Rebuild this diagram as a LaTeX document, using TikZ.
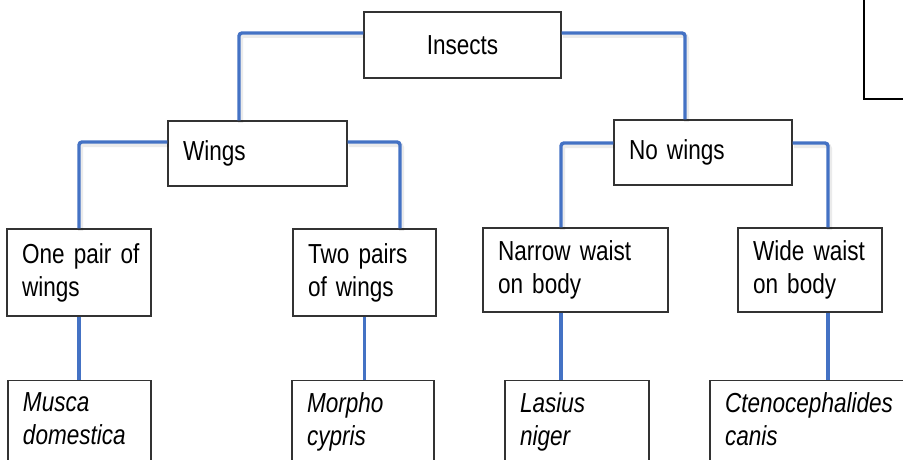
\documentclass[tikz,border=0pt]{standalone}
\usepackage{fontspec}
\setmainfont[FakeStretch=0.82]{Liberation Sans}
\usepackage{tikz}
\usetikzlibrary{positioning, calc}
\definecolor{keyblue}{HTML}{4472C4}
\definecolor{boxgrey}{HTML}{333333}
\newcommand{\deepline}{\rule[-30pt]{0pt}{30pt}}

\tikzset{
  keybox/.style={draw=boxgrey, line width=1.4pt, fill=white, inner xsep=15pt, inner ysep=0pt, align=left},
  leafbox/.style={keybox, anchor=north, inner ysep=12pt},
  link/.style={draw=keyblue, line width=3.4pt, rounded corners=3pt},
  linkshade/.style={draw=black, opacity=0.08, line width=5pt, rounded corners=3pt}
}

\begin{document}
\begin{tikzpicture}[x=1pt, y=-1pt, font={\fontsize{27.5}{33}\selectfont\spaceskip=6.4pt plus 1pt minus 1pt}]
  \useasboundingbox (0,0) rectangle (903,460);
  \clip (0,0) rectangle (903,460);

  % top of the key
  \node[keybox, align=center, minimum width=197pt, minimum height=66pt] (insects) at (462.5,45) {Insects};
  \node[keybox, text width=149pt, minimum height=65pt] (wings) at (257.5,153.5) {Wings};
  \node[keybox, text width=148pt, minimum height=65pt] (nowings) at (703,152.5) {No~wings};

  % second split
  \node[keybox, text width=114pt, minimum height=87pt] (onepair) at (79,272.5) {One~pair~of\\wings};
  \node[keybox, text width=113pt, minimum height=87pt] (twopairs) at (364.5,272.5) {Two~pairs\\of~wings};
  \node[keybox, text width=155pt, minimum height=84pt] (narrow) at (575.5,270) {Narrow~waist\\on~body};
  \node[keybox, text width=114pt, minimum height=84pt] (wide) at (810,270) {Wide~waist\\on~body};

  % species
  \node[leafbox, text width=113pt] (musca) at (79.5,380) {\itshape Musca\\domestica\deepline};
  \node[leafbox, text width=112pt] (morpho) at (363,380) {\itshape Morpho\\cypris\deepline};
  \node[leafbox, text width=114pt] (lasius) at (577,380) {\itshape Lasius\\niger\deepline};
  \node[leafbox, text width=170pt] (cteno) at (810,380) {\itshape Ctenocephalides\\canis\deepline};

  % empty box in the corner
  \node[draw=black, line width=1.8pt, anchor=south west, minimum width=80pt, minimum height=140pt] (corner) at (863,100) {};

  % connectors, with a soft shade first
  \begin{scope}[transform canvas={xshift=1.5pt, yshift=-2.5pt}]
    \draw[linkshade] ([yshift=12pt]insects.west) -| ([xshift=-18.5pt]wings.north);
    \draw[linkshade] ([yshift=12pt]insects.east) -| ([xshift=-18pt]nowings.north);
    \draw[linkshade] ([yshift=11.5pt]wings.west) -| (onepair.north);
    \draw[linkshade] ([yshift=11.5pt]wings.east) -| ([xshift=35.5pt]twopairs.north);
    \draw[linkshade] ([yshift=9.5pt]nowings.west) -| ([xshift=-14.5pt]narrow.north);
    \draw[linkshade] ([yshift=9.5pt]nowings.east) -| ([xshift=18pt]wide.north);
  \end{scope}

  \draw[link] ([yshift=12pt]insects.west) -| ([xshift=-18.5pt]wings.north);
  \draw[link] ([yshift=12pt]insects.east) -| ([xshift=-18pt]nowings.north);
  \draw[link] ([yshift=11.5pt]wings.west) -| (onepair.north);
  \draw[link] ([yshift=11.5pt]wings.east) -| ([xshift=35.5pt]twopairs.north);
  \draw[link] ([yshift=9.5pt]nowings.west) -| ([xshift=-14.5pt]narrow.north);
  \draw[link] ([yshift=9.5pt]nowings.east) -| ([xshift=18pt]wide.north);

  \draw[link] (onepair.south) -- (onepair.south |- musca.north);
  \draw[link] (twopairs.south) -- (twopairs.south |- morpho.north);
  \draw[link] ([xshift=-14.5pt]narrow.south) -- ([xshift=-14.5pt]narrow.south |- lasius.north);
  \draw[link] ([xshift=18pt]wide.south) -- ([xshift=18pt]wide.south |- cteno.north);
\end{tikzpicture}
\end{document}
